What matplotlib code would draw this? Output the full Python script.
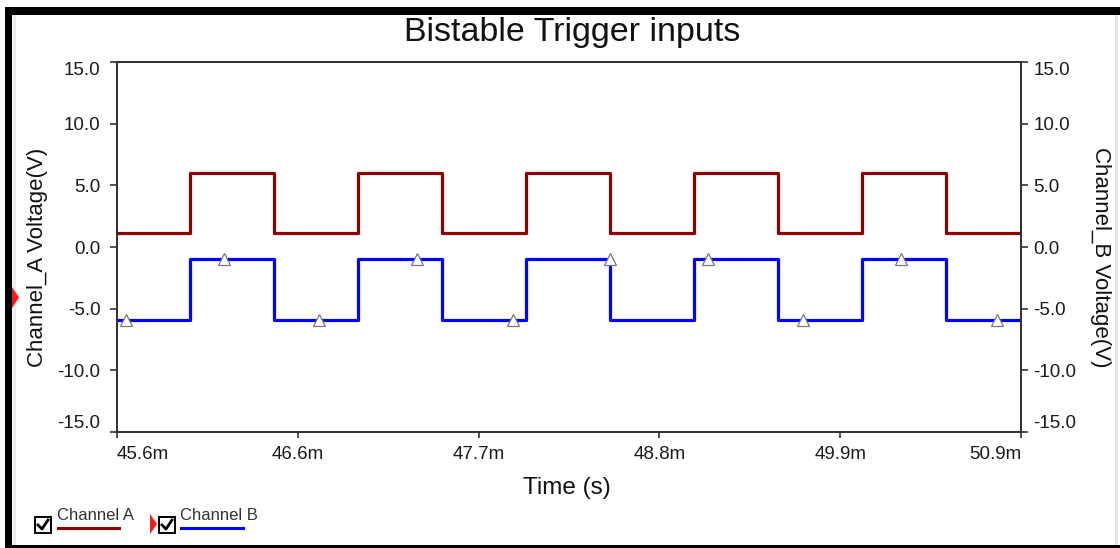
import matplotlib
matplotlib.use("Agg")
import matplotlib.pyplot as plt
from matplotlib.patches import Rectangle, Polygon
from matplotlib.lines import Line2D
import numpy as np

plt.rcParams['font.family'] = ['Liberation Sans', 'DejaVu Sans']

# ---- data (time in ms, voltage in V) ----
t_edges = [45.565, 46.0, 46.5, 47.0, 47.5, 48.0, 48.5, 49.0, 49.5, 50.0, 50.5, 50.945]
channel_a = [1.15, 6.0, 1.15, 6.0, 1.15, 6.0, 1.15, 6.0, 1.15, 6.0, 1.15, 1.15]
channel_b = [-5.9, -0.95, -5.9, -0.95, -5.9, -0.95, -5.9, -0.95, -5.9, -0.95, -5.9, -5.9]
marker_t = [45.62, 46.20, 46.77, 47.35, 47.92, 48.50, 49.08, 49.65, 50.23, 50.80]
marker_b = [-5.9, -0.95, -5.9, -0.95, -5.9, -0.95, -0.95, -5.9, -0.95, -5.9]
x_tick_labels = ["45.6m", "46.6m", "47.7m", "48.8m", "49.9m", "50.9m"]
y_ticks = [15.0, 10.0, 5.0, 0.0, -5.0, -10.0, -15.0]

W, H = 1120, 548
fig = plt.figure(figsize=(W / 100, H / 100), dpi=100)
fig.patch.set_facecolor("white")

def fx(px):
    return px / W

def fy(py):
    return 1 - py / H

ax = fig.add_axes([fx(117), fy(432), fx(1021) - fx(117), fy(62) - fy(432)])
ax.set_xlim(t_edges[0], t_edges[-1])
ax.set_ylim(-15, 15)

ax.plot(t_edges, channel_a, drawstyle="steps-post", color="#8B0000", lw=2.3)
ax.plot(t_edges, channel_b, drawstyle="steps-post", color="#0000FF", lw=2.3)
ax.plot(marker_t, marker_b, linestyle="none", marker="^", markersize=8,
        markerfacecolor="white", markeredgecolor="#777777", markeredgewidth=0.9)

spine_col = "#333333"
for s in ax.spines.values():
    s.set_color(spine_col)
    s.set_linewidth(1.3)

tick_fs = 13.5
xt = np.linspace(t_edges[0], t_edges[-1], len(x_tick_labels))
ax.set_xticks(xt)
ax.set_xticklabels(x_tick_labels)
ax.tick_params(axis="x", direction="out", length=4, width=1.2, color=spine_col,
               labelsize=tick_fs, pad=6, labelcolor="#1a1a1a")
labs = ax.get_xticklabels()
labs[0].set_ha("left")
labs[-1].set_ha("right")

ax.set_yticks(y_ticks)
ax.set_yticklabels([f"{v:.1f}" for v in y_ticks])
ax.tick_params(axis="y", direction="out", length=5, width=1.2, color=spine_col,
               labelsize=tick_fs, pad=7, labelcolor="#1a1a1a")
ylabs = ax.get_yticklabels()
ylabs[0].set_va("top")
ylabs[-1].set_va("bottom")

ax2 = ax.twinx()
ax2.set_ylim(-15, 15)
ax2.set_yticks(y_ticks)
ax2.set_yticklabels([f"{v:.1f}" for v in y_ticks])
ax2.tick_params(axis="y", direction="out", length=5, width=1.2, color=spine_col,
                labelsize=tick_fs, pad=4, labelcolor="#1a1a1a")
for s in ax2.spines.values():
    s.set_color(spine_col)
    s.set_linewidth(1.3)
ylabs2 = ax2.get_yticklabels()
ylabs2[0].set_va("top")
ylabs2[-1].set_va("bottom")

# titles and axis labels
fig.text(fx(572), fy(33), "Bistable Trigger inputs", ha="center", va="center",
         fontsize=24.5, color="#111111")
fig.text(fx(567), fy(488), "Time (s)", ha="center", va="center", fontsize=17.5,
         color="#111111")
fig.text(fx(38), fy(257), "Channel_A Voltage(V)", ha="center", va="center",
         rotation=90, fontsize=16, color="#111111")
fig.text(fx(1100), fy(257), "Channel_B Voltage(V)", ha="center", va="center",
         rotation=270, fontsize=16, color="#111111")

# window frame
fig.add_artist(Rectangle((fx(5), fy(15)), fx(1120) - fx(5), fy(7) - fy(15),
                         transform=fig.transFigure, color="black", lw=0))
fig.add_artist(Rectangle((fx(5), fy(548)), fx(12) - fx(5), fy(7) - fy(548),
                         transform=fig.transFigure, color="black", lw=0))
fig.add_artist(Rectangle((fx(5), fy(548)), fx(1120) - fx(5), fy(545) - fy(548),
                         transform=fig.transFigure, color="black", lw=0))
fig.add_artist(Rectangle((fx(13), fy(545)), fx(16) - fx(13), fy(15) - fy(545),
                         transform=fig.transFigure, color="#ececec", lw=0))
fig.add_artist(Rectangle((fx(1115), fy(545)), fx(1118) - fx(1115), fy(15) - fy(545),
                         transform=fig.transFigure, color="#e2e2e2", lw=0))

# red cursor markers
def red_tri(x0, x1, y0, y1):
    fig.add_artist(Polygon([(fx(x0), fy(y0)), (fx(x1), fy((y0 + y1) / 2)), (fx(x0), fy(y1))],
                           closed=True, transform=fig.transFigure, color="#ff1a1a", lw=0))

red_tri(12, 19, 287, 308)
red_tri(150, 157, 514, 534)

# legend entries with check boxes
def checkbox(x0, y0, size=16):
    fig.add_artist(Rectangle((fx(x0), fy(y0 + size)), fx(size), size / H,
                             transform=fig.transFigure, facecolor="white",
                             edgecolor="black", lw=1.4))
    fig.add_artist(Line2D([fx(x0 + 3), fx(x0 + 7), fx(x0 + 13)],
                          [fy(y0 + 8), fy(y0 + 12), fy(y0 + 3)],
                          transform=fig.transFigure, color="black", lw=2.0))

checkbox(35, 517)
checkbox(159, 517)
fig.text(fx(57), fy(515), "Channel A", ha="left", va="center", fontsize=12,
         color="#333333")
fig.text(fx(180), fy(515), "Channel B", ha="left", va="center", fontsize=12,
         color="#333333")
fig.add_artist(Line2D([fx(58), fx(119)], [fy(528), fy(528)], transform=fig.transFigure,
                      color="#8B0000", lw=2.2))
fig.add_artist(Line2D([fx(181), fx(243)], [fy(528), fy(528)], transform=fig.transFigure,
                      color="#0000FF", lw=2.2))

fig.savefig("out.png", dpi=100, facecolor="white")
